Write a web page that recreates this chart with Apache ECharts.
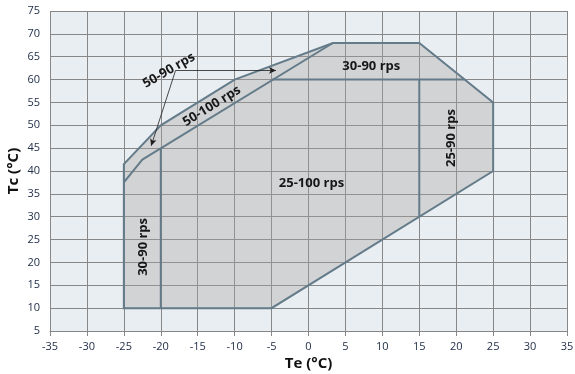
<!DOCTYPE html>
<html><head><meta charset="utf-8">
<script src="https://cdn.jsdelivr.net/npm/echarts@6/dist/echarts.min.js"></script>
<style>html,body{margin:0;padding:0;background:#fff}#c{width:575px;height:374px}</style>
</head><body><div id="c"></div>
<script>
// Envelope outline (Te, Tc)
const envelopeTe = [-25, -5, 25, 25, 15, 3.3, -10, -20, -25];
const envelopeTc = [10, 10, 40, 55, 68, 68, 60, 50, 41.5];
// 50-100 rps lower boundary
const band50Te = [-25, -22.5, 3.3];
const band50Tc = [37.5, 42.5, 68];
// Region dividers
const divLeftTe = [-20, -20];
const divLeftTc = [10, 45];
const divTopTe = [-5, 21.15];
const divTopTc = [60, 60];
const divRightTe = [15, 15];
const divRightTc = [30, 60];
// Region labels
const labelTexts = ['25-100 rps', '30-90 rps', '30-90 rps', '25-90 rps', '50-100 rps', '50-90 rps'];
const labelTe = [0.4, -22.4, 8.5, 19.3, -13.1, -18.9];
const labelTc = [37.4, 23.4, 62.8, 47.2, 54.2, 62.0];
const labelAngle = [0, 90, 0, 90, 31.7, 30];
// Pointer arrows
const arrowFromTe = [-18, -18];
const arrowFromTc = [62, 62];
const arrowToTe = [-21.3, -4.4];
const arrowToTc = [45.5, 62];

const edge = '#647b8a';
const gridCol = '#878787';
const labelFont = 'bold 13px "Open Sans"';

function pairs(xs, ys) { return xs.map((x, i) => [x, ys[i]]); }
function lineSeries(xs, ys, extra) {
  return Object.assign({
    type: 'line', data: pairs(xs, ys), symbol: 'none', silent: true,
    lineStyle: { color: edge, width: 2 }, z: 4, animation: false
  }, extra || {});
}

const chart = echarts.init(document.getElementById('c'), null, { renderer: 'canvas' });
chart.setOption({
  animation: false,
  backgroundColor: '#ffffff',
  grid: { left: 50, right: 8, top: 11, bottom: 43, show: true, backgroundColor: '#e9eef2', borderWidth: 0, containLabel: false, outerBoundsMode: 'none' },
  xAxis: {
    type: 'value', min: -35, max: 35, interval: 5,
    name: 'Te (°C)', nameLocation: 'middle', nameGap: 25, nameMoveOverlap: false,
    nameTextStyle: { fontFamily: 'Open Sans', fontWeight: 'bold', fontSize: 15, color: '#111' },
    axisLine: { show: true, lineStyle: { color: gridCol, width: 1 } },
    axisTick: { show: true, length: 5, lineStyle: { color: gridCol } },
    axisLabel: { color: '#22304a', fontSize: 11, fontFamily: 'Open Sans', margin: 10 },
    splitLine: { show: true, lineStyle: { color: gridCol, width: 1 } }
  },
  yAxis: {
    type: 'value', min: 5, max: 75, interval: 5,
    name: 'Tc (°C)', nameLocation: 'middle', nameGap: 29, nameRotate: 90, nameMoveOverlap: false,
    nameTextStyle: { fontFamily: 'Open Sans', fontWeight: 'bold', fontSize: 15, color: '#111' },
    axisLine: { show: true, lineStyle: { color: gridCol, width: 1 } },
    axisTick: { show: true, length: 5, lineStyle: { color: gridCol } },
    axisLabel: { color: '#22304a', fontSize: 11, fontFamily: 'Open Sans', margin: 10 },
    splitLine: { show: true, lineStyle: { color: gridCol, width: 1 } }
  },
  series: [
    {
      type: 'custom', silent: true, z: 3,
      data: pairs(envelopeTe, envelopeTc),
      renderItem: function (params, api) {
        if (params.dataIndex !== 0) return null;
        const pts = envelopeTe.map((x, i) => api.coord([x, envelopeTc[i]]));
        return {
          type: 'polygon', shape: { points: pts },
          style: { fill: 'rgba(168,164,162,0.36)', stroke: edge, lineWidth: 2, lineJoin: 'miter' }
        };
      }
    },
    lineSeries(band50Te, band50Tc, {
      markLine: {
        silent: true, symbol: ['none', 'arrow'], symbolSize: [5, 7], animation: false,
        label: { show: false },
        lineStyle: { color: '#1e1e1e', width: 0.8, type: 'solid' },
        emphasis: { disabled: true },
        data: arrowFromTe.map((x, i) => [
          { coord: [x, arrowFromTc[i]] },
          { coord: [arrowToTe[i], arrowToTc[i]] }
        ])
      }
    }),
    lineSeries(divLeftTe, divLeftTc),
    lineSeries(divTopTe, divTopTc),
    lineSeries(divRightTe, divRightTc),
    {
      type: 'custom', silent: true, z: 6,
      data: labelTexts.map((t, i) => [labelTe[i], labelTc[i]]),
      renderItem: function (params, api) {
        const i = params.dataIndex;
        const p = api.coord([labelTe[i], labelTc[i]]);
        return {
          type: 'text', x: p[0], y: p[1], rotation: labelAngle[i] * Math.PI / 180,
          style: { text: labelTexts[i], fill: '#161616', font: labelFont, align: 'center', verticalAlign: 'middle' }
        };
      }
    }
  ]
});
</script></body></html>
